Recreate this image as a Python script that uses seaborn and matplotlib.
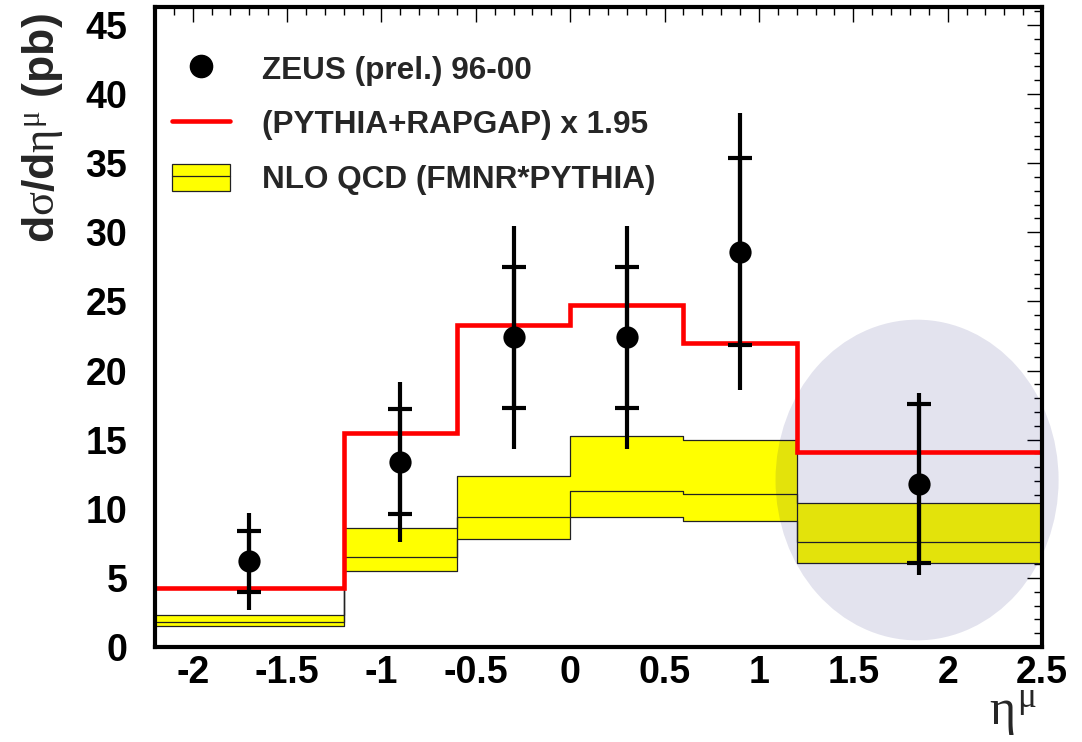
import numpy as np
import pandas as pd
import matplotlib
matplotlib.use("Agg")
import matplotlib.pyplot as plt
import seaborn as sns
from matplotlib.patches import Ellipse, Patch
from matplotlib.lines import Line2D
from matplotlib.ticker import MultipleLocator

# ---------------- data ----------------
bin_edges = [-2.2, -1.2, -0.6, 0.0, 0.6, 1.2, 2.5]
mc_values = [4.27, 15.5, 23.3, 24.75, 22.0, 14.13]          # (PYTHIA+RAPGAP) x 1.95
nlo_low = [1.52, 5.52, 7.81, 9.38, 9.12, 6.1]
nlo_central = [1.83, 6.49, 9.43, 11.31, 11.07, 7.62]
nlo_high = [2.3, 8.59, 12.37, 15.24, 14.98, 10.44]
eta_points = [-1.7, -0.9, -0.3, 0.3, 0.9, 1.85]
xsec_points = [6.2, 13.4, 22.4, 22.4, 28.6, 11.8]
stat_err = [2.2, 3.8, 5.1, 5.1, 6.75, 5.75]
total_err = [3.5, 5.8, 8.05, 8.05, 10.0, 6.6]
x_ticks = [-2, -1.5, -1, -0.5, 0, 0.5, 1, 1.5, 2, 2.5]
x_tick_labels = ["-2", "-1.5", "-1", "-0.5", "0", "0.5", "1", "1.5", "2", "2.5"]
y_ticks = [0, 5, 10, 15, 20, 25, 30, 35, 40, 45]
y_tick_labels = ["0", "5", "10", "15", "20", "25", "30", "35", "40", "45"]
legend_labels = ["ZEUS (prel.) 96-00", "(PYTHIA+RAPGAP) x 1.95", "NLO QCD (FMNR*PYTHIA)"]
highlight_center = (1.838, 12.08)
highlight_width = 1.5
highlight_height = 23.2

# ---------------- style ----------------
sns.set_style("white")
plt.rcParams["font.family"] = ["Liberation Sans", "DejaVu Sans"]
plt.rcParams["axes.unicode_minus"] = False
plt.rcParams["mathtext.fontset"] = "custom"
plt.rcParams["mathtext.rm"] = "Liberation Serif:weight=normal"
plt.rcParams["mathtext.it"] = "Liberation Serif:weight=normal"
plt.rcParams["mathtext.bf"] = "Liberation Sans:bold"

fig = plt.figure(figsize=(10.82, 7.42), dpi=100)
ax = fig.add_axes([155 / 1082, 1 - 647 / 742, 887 / 1082, 640 / 742])

step_x = bin_edges
mc_step = mc_values + [mc_values[-1]]
lo_step = nlo_low + [nlo_low[-1]]
hi_step = nlo_high + [nlo_high[-1]]
c_step = nlo_central + [nlo_central[-1]]

# NLO band
ax.fill_between(step_x, lo_step, hi_step, step="post", facecolor="#ffff00",
                edgecolor="#222222", linewidth=0.9, zorder=1)
sns.lineplot(x=step_x, y=c_step, drawstyle="steps-post", color="#222222",
             linewidth=0.9, estimator=None, sort=False, ax=ax, zorder=1.5)

# highlight ellipse
ax.add_patch(Ellipse(highlight_center, highlight_width, highlight_height,
                     facecolor="#00006a", alpha=0.11, linewidth=0,
                     clip_on=False, zorder=2))

# MC step line
sns.lineplot(x=step_x, y=mc_step, drawstyle="steps-post", color="#ff0000",
             linewidth=3.3, estimator=None, sort=False, ax=ax, zorder=3,
             solid_joinstyle="miter")

# data points
ax.errorbar(eta_points, xsec_points, yerr=total_err, fmt="none", ecolor="black",
            elinewidth=3, capsize=0, zorder=5)
ax.errorbar(eta_points, xsec_points, yerr=stat_err, fmt="none", ecolor="black",
            elinewidth=3, capsize=8.5, capthick=3, zorder=5)
sns.scatterplot(x=eta_points, y=xsec_points, s=16 ** 2, color="black",
                edgecolor="black", linewidth=0, ax=ax, zorder=6)

# axes
ax.set_xlim(-2.2, 2.5)
ax.set_ylim(0, 46.3)
ax.set_xticks(x_ticks)
ax.set_xticklabels(x_tick_labels)
ax.set_yticks(y_ticks)
ax.set_yticklabels(y_tick_labels)
ax.xaxis.set_minor_locator(MultipleLocator(0.1))
ax.yaxis.set_minor_locator(MultipleLocator(1))
ax.tick_params(which="both", direction="in", top=True, right=True, colors="black")
ax.tick_params(which="major", length=11, width=1.0, labelsize=27)
ax.tick_params(which="minor", length=5.5, width=1.0)
ax.tick_params(axis="y", which="major", pad=20)
ax.tick_params(axis="x", which="major", pad=6)
for lab in ax.get_xticklabels() + ax.get_yticklabels():
    lab.set_fontweight("bold")
for sp in ax.spines.values():
    sp.set_linewidth(3)
    sp.set_color("black")
    sp.set_zorder(10)

ax.set_ylabel("$\\mathbf{d}\\sigma\\mathbf{/d}\\eta^{\\mu}$ (pb)", fontsize=32,
              fontweight="bold", loc="top")
ax.yaxis.set_label_coords(-0.102, 0.99)
ax.set_xlabel("$\\eta^{\\mu}$", fontsize=36, loc="right")
ax.xaxis.set_label_coords(0.994, -0.066)

handles = [
    Line2D([], [], marker="o", markersize=16, color="black", linestyle="none"),
    Line2D([], [], color="#ff0000", linewidth=3.3),
    (Patch(facecolor="#ffff00", edgecolor="#222222", linewidth=0.9),
     Line2D([], [], color="#222222", linewidth=0.9)),
]
leg = ax.legend(handles, legend_labels, loc="upper left", bbox_to_anchor=(0.019, 0.926),
                frameon=False, fontsize=22.7, handlelength=1.85, handleheight=0.92,
                handletextpad=1.0, labelspacing=0.75, borderpad=0, borderaxespad=0)
for t in leg.get_texts():
    t.set_fontweight("bold")

fig.savefig("out.png", dpi=100)
